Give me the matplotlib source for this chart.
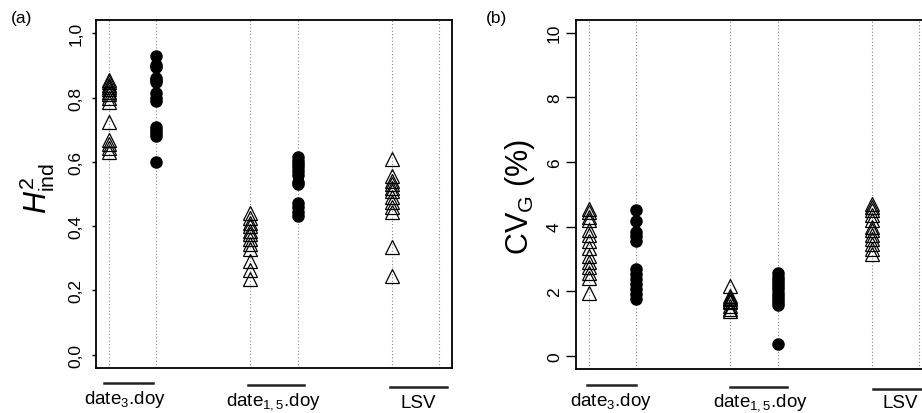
import matplotlib
matplotlib.use("Agg")
import matplotlib.pyplot as plt

plt.rcParams["font.family"] = ["Liberation Sans", "DejaVu Sans"]
plt.rcParams["mathtext.fontset"] = "custom"
plt.rcParams["mathtext.rm"] = "Liberation Sans"
plt.rcParams["mathtext.it"] = "Liberation Sans:italic"

# x positions of the six columns (pairs per model, last slot of LSV empty)
X_POS = [1, 2, 4, 5, 7, 8]
GROUP_LABELS = [r"date$_3$.doy", r"date$_{1,5}$.doy", "LSV"]

# (a) individual-plant heritability
h2_d3_tri = [0.855, 0.848, 0.84, 0.833, 0.826, 0.818, 0.81, 0.80, 0.787,
             0.725, 0.668, 0.655, 0.642, 0.63]
h2_d3_dot = [0.93, 0.90, 0.895, 0.86, 0.855, 0.85, 0.815, 0.80, 0.79,
             0.71, 0.70, 0.69, 0.68, 0.60]
h2_d15_tri = [0.44, 0.425, 0.41, 0.40, 0.385, 0.375, 0.36, 0.345, 0.33,
              0.29, 0.265, 0.235]
h2_d15_dot = [0.614, 0.604, 0.594, 0.583, 0.571, 0.559, 0.538, 0.531,
              0.472, 0.459, 0.445, 0.431]
h2_lsv_tri = [0.61, 0.555, 0.54, 0.53, 0.52, 0.51, 0.49, 0.475, 0.46,
              0.445, 0.335, 0.245]
h2_ticks = [0.0, 0.2, 0.4, 0.6, 0.8, 1.0]
h2_ticklabels = ["0,0", "0,2", "0,4", "0,6", "0,8", "1,0"]

# (b) genetic coefficient of variation
cv_d3_tri = [4.55, 4.45, 4.3, 4.2, 3.9, 3.75, 3.55, 3.35, 3.1, 2.9, 2.75,
             2.55, 2.4, 1.95]
cv_d3_dot = [4.52, 4.18, 3.82, 3.70, 3.56, 2.68, 2.53, 2.37, 2.22, 2.06,
             1.91, 1.75]
cv_d15_tri = [2.15, 1.85, 1.8, 1.75, 1.7, 1.65, 1.55, 1.45, 1.38]
cv_d15_dot = [2.55, 2.45, 2.35, 2.25, 2.15, 2.05, 1.95, 1.85, 1.75, 1.65,
              1.58, 0.35]
cv_lsv_tri = [4.7, 4.6, 4.5, 4.35, 4.2, 4.0, 3.9, 3.75, 3.6, 3.45, 3.3, 3.15]
cv_ticks = [0, 2, 4, 6, 8, 10]
cv_ticklabels = ["0", "2", "4", "6", "8", "10"]


def draw_panel(ax, tri_sets, dot_sets, ylim, ticks, ticklabels, tick_len, pad):
    for x in X_POS:
        ax.axvline(x, color="#888888", lw=0.8, ls=(0, (1, 2)), zorder=0)
    tri_x = [X_POS[0], X_POS[2], X_POS[4]]
    dot_x = [X_POS[1], X_POS[3]]
    for x, vals in zip(tri_x, tri_sets):
        ax.plot([x] * len(vals), vals, ls="none", marker="^", ms=10.5,
                mfc="none", mec="black", mew=0.9)
    for x, vals in zip(dot_x, dot_sets):
        ax.plot([x] * len(vals), vals, ls="none", marker="o", ms=8,
                mfc="black", mec="black")
    ax.set_xlim(0.72, 8.28)
    ax.set_ylim(*ylim)
    ax.set_xticks([])
    ax.set_yticks(ticks)
    ax.set_yticklabels(ticklabels, rotation=90, va="center", fontsize=12.5)
    ax.tick_params(axis="y", length=tick_len, width=1, pad=pad)
    for s in ax.spines.values():
        s.set_linewidth(1.3)


fig = plt.figure(figsize=(9.22, 4.14), dpi=100)

ax_a = fig.add_axes([0.1041, 0.1099, 0.3861, 0.8382])
draw_panel(ax_a, [h2_d3_tri, h2_d15_tri, h2_lsv_tri], [h2_d3_dot, h2_d15_dot],
           (-0.04, 1.04), h2_ticks, h2_ticklabels, 3.2, 6)

ax_b = fig.add_axes([0.6247, 0.1072, 0.3861, 0.8425])
draw_panel(ax_b, [cv_d3_tri, cv_d15_tri, cv_lsv_tri], [cv_d3_dot, cv_d15_dot],
           (-0.4, 10.4), cv_ticks, cv_ticklabels, 7, 3)

# group bars and names under each pair of columns
trans_a = ax_a.get_xaxis_transform()
bars_a = [(0.89, 1.94, -0.045), (3.94, 5.13, -0.051), (6.96, 8.17, -0.056)]
names_a = [(1.34, -0.09), (4.49, -0.096), (7.56, -0.1)]
for (x0, x1, y), (xt, yt), lab in zip(bars_a, names_a, GROUP_LABELS):
    ax_a.plot([x0, x1], [y, y], color="#222222", lw=1.8, transform=trans_a,
              clip_on=False)
    ax_a.text(xt, yt, lab, transform=trans_a, ha="center", va="center",
              fontsize=13.5)

trans_b = ax_b.get_xaxis_transform()
bars_b = [(0.96, 2.0, -0.046), (4.0, 5.21, -0.052), (7.03, 8.4, -0.058)]
names_b = [(1.47, -0.09), (4.63, -0.094), (7.61, -0.096)]
for (x0, x1, y), (xt, yt), lab in zip(bars_b, names_b, GROUP_LABELS):
    ax_b.plot([x0, x1], [y, y], color="#222222", lw=1.8, transform=trans_b,
              clip_on=False)
    ax_b.text(xt, yt, lab, transform=trans_b, ha="center", va="center",
              fontsize=13.5)

fig.text(37 / 922, 1 - 188 / 414, r"$H^2_{\mathrm{ind}}$", rotation=90,
         ha="center", va="center", fontsize=22)
fig.text(520 / 922, 1 - 197 / 414, r"CV$_\mathrm{G}$ (%)", rotation=90,
         ha="center", va="center", fontsize=22)

fig.text(22 / 922, 1 - 19 / 414, "(a)", ha="center", va="center", fontsize=12.5)
fig.text(496 / 922, 1 - 19 / 414, "(b)", ha="center", va="center", fontsize=12.5)

fig.savefig("out.png", dpi=100, facecolor="white")
